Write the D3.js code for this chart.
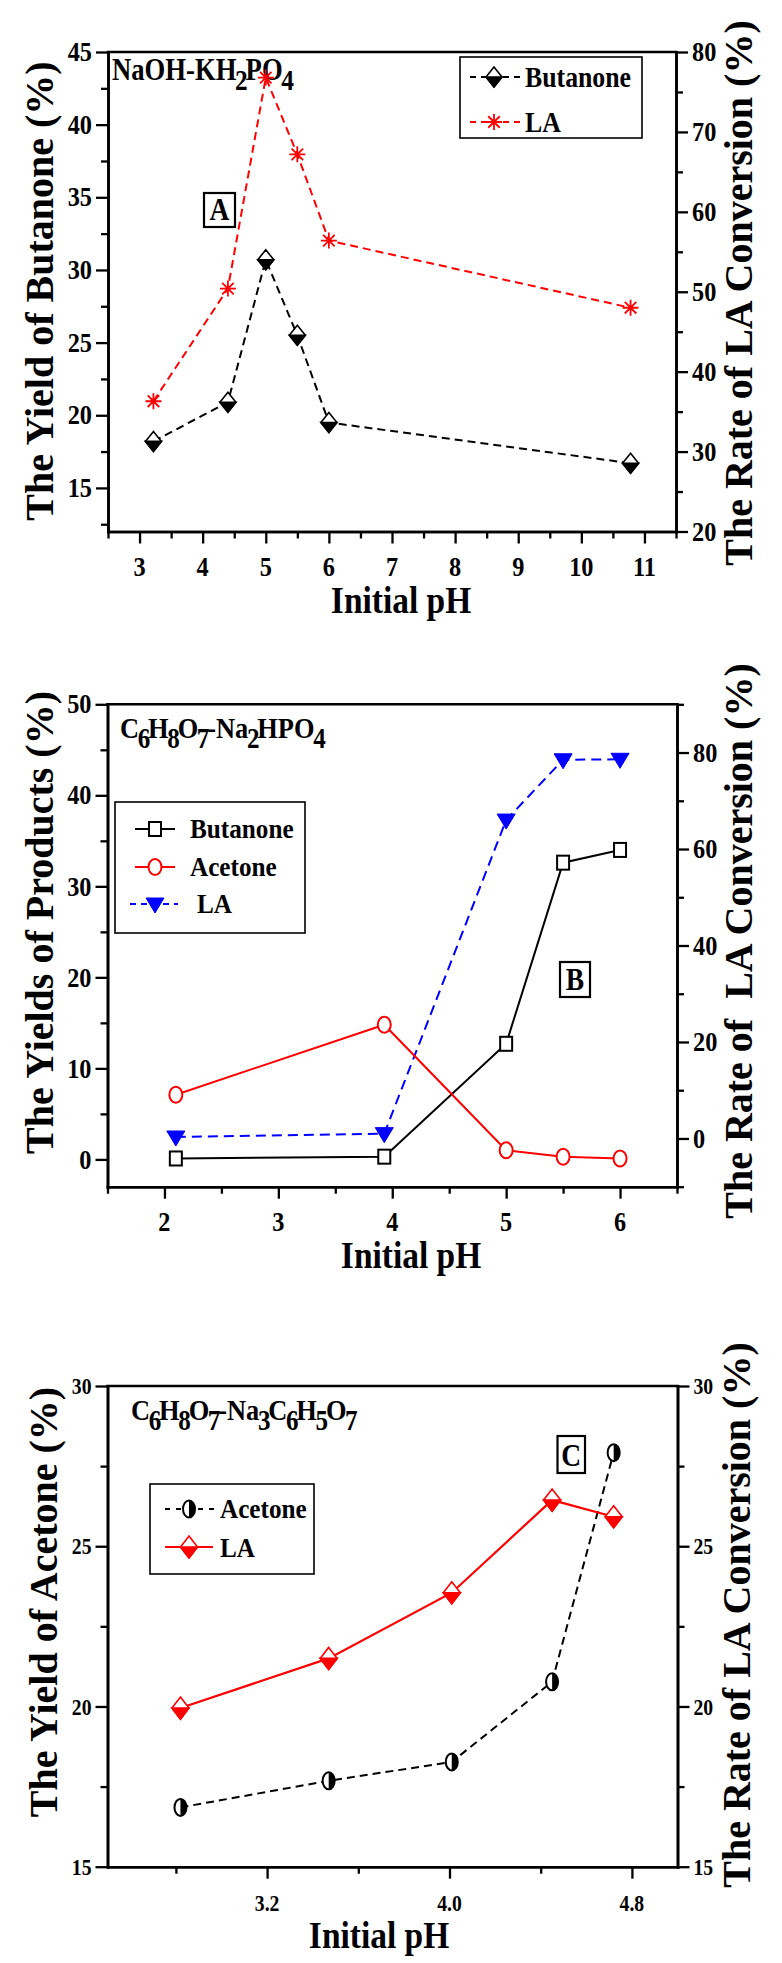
<!DOCTYPE html>
<html>
<head>
<meta charset="utf-8">
<script src="https://cdn.jsdelivr.net/npm/d3@7"></script>
<style>
  body { margin: 0; background: #fff; }
  text { font-family: "Liberation Serif", "Times New Roman", serif; font-weight: bold; fill: #000; }
</style>
</head>
<body>
<svg id="chart" width="782" height="1963"></svg>
<script>
// ================= DATA =================
// Panel A : NaOH-KH2PO4
const phA = [3.22, 4.40, 5.00, 5.50, 6.00, 10.78];
const butanoneYieldA = [18.2, 20.9, 30.7, 25.5, 19.5, 16.7];
const laConversionA = [36.3, 50.4, 76.8, 67.2, 56.4, 48.0];
const xTicksA = [3, 4, 5, 6, 7, 8, 9, 10, 11];
const xMinorA = [2.5, 3.5, 4.5, 5.5, 6.5, 7.5, 8.5, 9.5, 10.5, 11.5];
const yLeftTicksA = [15, 20, 25, 30, 35, 40, 45];
const yLeftMinorA = [12.5, 17.5, 22.5, 27.5, 32.5, 37.5, 42.5];
const yRightTicksA = [20, 30, 40, 50, 60, 70, 80];
const yRightMinorA = [25, 35, 45, 55, 65, 75];

// Panel B : C6H8O7-Na2HPO4
const phB = [2.10, 3.93, 5.00, 5.50, 6.00];
const butanoneYieldB = [0.1, 0.3, 12.7, 32.6, 34.0];
const acetoneYieldB = [7.1, 14.8, 1.0, 0.3, 0.1];
const laConversionB = [0.3, 1.0, 66.0, 78.5, 78.6];
const xTicksB = [2, 3, 4, 5, 6];
const xMinorB = [1.5, 2.5, 3.5, 4.5, 5.5, 6.5];
const yLeftTicksB = [0, 10, 20, 30, 40, 50];
const yLeftMinorB = [5, 15, 25, 35, 45];
const yRightTicksB = [0, 20, 40, 60, 80];
const yRightMinorB = [-10, 10, 30, 50, 70, 90];

// Panel C : C6H8O7-Na3C6H5O7
const phC = [2.82, 3.47, 4.01, 4.45, 4.72];
const acetoneYieldC = [16.85, 17.68, 18.27, 20.77, 27.92];
const laConversionC = [19.95, 21.5, 23.55, 26.44, 25.92];
const xTicksC = [3.2, 4.0, 4.8];
const xMinorC = [2.8, 3.6, 4.4];
const yLeftTicksC = [15, 20, 25, 30];
const yLeftMinorC = [17.5, 22.5, 27.5];
const yRightTicksC = [15, 20, 25, 30];
const yRightMinorC = [17.5, 22.5, 27.5];

// ================= DRAWING =================
const svg = d3.select("#chart");
svg.append("rect").attr("width", 782).attr("height", 1963).attr("fill", "#fff");

function hText(g, x, y, str, size, anchor, sx) {
  return g.append("text")
    .attr("transform", `translate(${x},${y}) scale(${sx},1)`)
    .attr("text-anchor", anchor)
    .attr("font-size", size)
    .text(str);
}

function chemText(g, x, y, parts, size, sx) {
  const t = g.append("text")
    .attr("transform", `translate(${x},${y}) scale(${sx},1)`)
    .attr("font-size", size);
  let sub = false;
  parts.forEach(([s, isSub]) => {
    const ts = t.append("tspan").text(s);
    if (isSub && !sub) { ts.attr("dy", size * 0.33).attr("font-size", size * 0.95).attr("dx", -1.5); sub = true; }
    else if (!isSub && sub) { ts.attr("dy", -size * 0.33).attr("dx", -2.5); sub = false; }
  });
  return t;
}

function vTitle(g, x, cy, str, size) {
  g.append("text")
    .attr("transform", `translate(${x},${cy}) rotate(-90)`)
    .attr("text-anchor", "middle")
    .attr("font-size", size)
    .style("white-space", "pre")
    .text(str);
}

function styleAxis(sel) {
  sel.select(".domain").attr("stroke-width", 2.6).attr("stroke-linecap", "square");
  sel.selectAll(".tick line").attr("stroke-width", 2.3);
  sel.selectAll(".tick text").remove();
}

function makePanel(p) {
  const g = svg.append("g");
  const x = d3.scaleLinear().domain(p.xDomain).range([p.left, p.right]);
  const yL = d3.scaleLinear().domain(p.yLDomain).range([p.bottom, p.top]);
  const yR = d3.scaleLinear().domain(p.yRDomain).range([p.bottom, p.top]);

  g.append("line").attr("x1", p.left).attr("x2", p.right).attr("y1", p.top).attr("y2", p.top)
    .attr("stroke", "#000").attr("stroke-width", 2.6).attr("stroke-linecap", "square");

  const axes = [
    [d3.axisBottom(x), p.xMinor, p.xMajor, `translate(0,${p.bottom})`],
    [d3.axisLeft(yL), p.yLMinor, p.yLMajor, `translate(${p.left},0)`],
    [d3.axisRight(yR), p.yRMinor, p.yRMajor, `translate(${p.right},0)`]
  ];
  axes.forEach(([ax, minor, major, tr]) => {
    g.append("g").attr("transform", tr)
      .call(ax.tickValues(minor).tickSize(7).tickSizeOuter(0).tickFormat(""))
      .call(styleAxis);
    g.append("g").attr("transform", tr)
      .call(ax.tickValues(major).tickSize(12).tickSizeOuter(0).tickFormat(""))
      .call(styleAxis);
  });

  const fx = p.xFormat, fy = d3.format("d");
  p.xMajor.forEach(v => hText(g, x(v), p.bottom + 44, fx(v), p.tickSize, "middle", p.tickSx));
  p.yLMajor.forEach(v => hText(g, p.left - 16, yL(v) + p.tickSize * 0.34, fy(v), p.tickSize, "end", p.tickSx));
  p.yRMajor.forEach(v => hText(g, p.right + 16, yR(v) + p.tickSize * 0.34, fy(v), p.tickSize, "start", p.tickSx));

  hText(g, p.xTitleX, p.bottom + 81, "Initial pH", 38, "middle", 0.88);
  vTitle(g, p.lTitleX, p.lTitleY, p.lTitle, 40);
  vTitle(g, p.rTitleX, p.rTitleY, p.rTitle, 40);
  return { g, x, yL, yR };
}

function drawLine(g, xs, ys, x, y, color, dash, width) {
  const pts = xs.map((v, i) => [x(v), y(ys[i])]);
  g.append("path").attr("d", d3.line()(pts)).attr("fill", "none")
    .attr("stroke", color).attr("stroke-width", width)
    .attr("stroke-dasharray", dash || null);
}

// ---- marker shapes ----
function halfDiamond(g, cx, cy, w, h, color) {
  g.append("path").attr("d", `M${cx},${cy - h / 2}L${cx + w / 2},${cy}L${cx},${cy + h / 2}L${cx - w / 2},${cy}Z`)
    .attr("fill", "#fff").attr("stroke", color).attr("stroke-width", 1.6);
  g.append("path").attr("d", `M${cx - w / 2},${cy}L${cx + w / 2},${cy}L${cx},${cy + h / 2}Z`)
    .attr("fill", color).attr("stroke", color).attr("stroke-width", 1.6).attr("stroke-linejoin", "miter");
}
function asterisk(g, cx, cy, r, color) {
  const d = r * 0.72;
  g.append("path").attr("d",
    `M${cx - r},${cy}L${cx + r},${cy}M${cx},${cy - r}L${cx},${cy + r}M${cx - d},${cy - d}L${cx + d},${cy + d}M${cx - d},${cy + d}L${cx + d},${cy - d}`)
    .attr("stroke", color).attr("stroke-width", 1.8).attr("fill", "none");
}
function openSquare(g, cx, cy, w, h, color) {
  g.append("rect").attr("x", cx - w / 2).attr("y", cy - h / 2).attr("width", w).attr("height", h)
    .attr("fill", "#fff").attr("stroke", color).attr("stroke-width", 2);
}
function openEllipse(g, cx, cy, rx, ry, color) {
  g.append("ellipse").attr("cx", cx).attr("cy", cy).attr("rx", rx).attr("ry", ry)
    .attr("fill", "#fff").attr("stroke", color).attr("stroke-width", 2);
}
function downTriangle(g, cx, cy, w, h, color) {
  g.append("path").attr("d", `M${cx - w / 2},${cy - h * 0.4}L${cx + w / 2},${cy - h * 0.4}L${cx},${cy + h * 0.6}Z`)
    .attr("fill", color).attr("stroke", color).attr("stroke-width", 1);
}
function halfEllipse(g, cx, cy, rx, ry, color) {
  g.append("ellipse").attr("cx", cx).attr("cy", cy).attr("rx", rx).attr("ry", ry)
    .attr("fill", "#fff").attr("stroke", color).attr("stroke-width", 2);
  g.append("path").attr("d", `M${cx},${cy - ry}A${rx},${ry} 0 0 1 ${cx},${cy + ry}Z`).attr("fill", color);
}

function legendBox(g, x0, y0, x1, y1) {
  g.append("rect").attr("x", x0).attr("y", y0).attr("width", x1 - x0).attr("height", y1 - y0)
    .attr("fill", "#fff").attr("stroke", "#000").attr("stroke-width", 1.6);
}
function letterBox(g, x0, y0, x1, y1, letter) {
  g.append("rect").attr("x", x0).attr("y", y0).attr("width", x1 - x0).attr("height", y1 - y0)
    .attr("fill", "none").attr("stroke", "#000").attr("stroke-width", 2.2);
  hText(g, (x0 + x1) / 2, y1 - 7, letter, 32, "middle", 0.86);
}

// ================= PANEL A =================
{
  const P = makePanel({
    left: 108, right: 676, top: 52, bottom: 531.5,
    xDomain: [2.5, 11.5], yLDomain: [12, 45], yRDomain: [20, 80],
    xMajor: xTicksA, xMinor: xMinorA, yLMajor: yLeftTicksA, yLMinor: yLeftMinorA,
    yRMajor: yRightTicksA, yRMinor: yRightMinorA, xFormat: d3.format("d"),
    tickSize: 27, tickSx: 0.9,
    xTitleX: 401, lTitleX: 53, lTitleY: 291, rTitleX: 752, rTitleY: 293,
    lTitle: "The Yield of Butanone (%)", rTitle: "The Rate of LA Conversion (%)"
  });
  const { g, x, yL, yR } = P;
  drawLine(g, phA, laConversionA, x, yR, "#ff0000", "8,5", 2);
  drawLine(g, phA, butanoneYieldA, x, yL, "#000", "8,5", 2);
  chemText(g, 112, 80, [["NaOH-KH", 0], ["2", 1], ["PO", 0], ["4", 1]], 31, 0.86);
  phA.forEach((v, i) => asterisk(g, x(v), yR(laConversionA[i]), 8, "#ff0000"));
  phA.forEach((v, i) => halfDiamond(g, x(v), yL(butanoneYieldA[i]), 16, 20, "#000"));
  letterBox(g, 204, 193, 235, 227, "A");
  legendBox(g, 460, 57, 642, 138);
  g.append("line").attr("x1", 470).attr("x2", 520).attr("y1", 77).attr("y2", 77).attr("stroke", "#000").attr("stroke-width", 2).attr("stroke-dasharray", "6,5");
  halfDiamond(g, 494, 77, 16, 20, "#000");
  hText(g, 525, 87, "Butanone", 30, "start", 0.86);
  g.append("line").attr("x1", 470).attr("x2", 520).attr("y1", 122).attr("y2", 122).attr("stroke", "#ff0000").attr("stroke-width", 2).attr("stroke-dasharray", "6,5");
  asterisk(g, 494, 122, 8, "#ff0000");
  hText(g, 525, 132, "LA", 30, "start", 0.86);
}

// ================= PANEL B =================
{
  const P = makePanel({
    left: 107.5, right: 677, top: 704.3, bottom: 1186.7,
    xDomain: [1.5, 6.5], yLDomain: [-3, 50], yRDomain: [-10, 90],
    xMajor: xTicksB, xMinor: xMinorB, yLMajor: yLeftTicksB, yLMinor: yLeftMinorB,
    yRMajor: yRightTicksB, yRMinor: yRightMinorB, xFormat: d3.format("d"),
    tickSize: 27, tickSx: 0.9,
    xTitleX: 411, lTitleX: 53, lTitleY: 922.5, rTitleX: 752, rTitleY: 941,
    lTitle: "The Yields of Products (%)", rTitle: "The Rate of  LA Conversion (%)"
  });
  const { g, x, yL, yR } = P;
  drawLine(g, phB, laConversionB, x, yR, "#0000ff", "10,6", 2);
  drawLine(g, phB, butanoneYieldB, x, yL, "#000", null, 2);
  drawLine(g, phB, acetoneYieldB, x, yL, "#ff0000", null, 2);
  chemText(g, 120, 738, [["C", 0], ["6", 1], ["H", 0], ["8", 1], ["O", 0], ["7", 1], ["-Na", 0], ["2", 1], ["HPO", 0], ["4", 1]], 30, 0.88);
  phB.forEach((v, i) => downTriangle(g, x(v), yR(laConversionB[i]), 18, 15, "#0000ff"));
  phB.forEach((v, i) => openSquare(g, x(v), yL(butanoneYieldB[i]), 12, 14, "#000"));
  phB.forEach((v, i) => openEllipse(g, x(v), yL(acetoneYieldB[i]), 6.5, 8, "#ff0000"));
  letterBox(g, 560, 962, 590, 997, "B");
  legendBox(g, 115, 802, 305, 933);
  g.append("line").attr("x1", 135).attr("x2", 175).attr("y1", 829).attr("y2", 829).attr("stroke", "#000").attr("stroke-width", 2);
  openSquare(g, 155, 829, 12, 14, "#000");
  hText(g, 190, 838, "Butanone", 28, "start", 0.9);
  g.append("line").attr("x1", 135).attr("x2", 175).attr("y1", 867).attr("y2", 867).attr("stroke", "#ff0000").attr("stroke-width", 2);
  openEllipse(g, 155, 867, 6.5, 8, "#ff0000");
  hText(g, 190, 876, "Acetone", 28, "start", 0.9);
  g.append("line").attr("x1", 130).attr("x2", 178).attr("y1", 904).attr("y2", 904).attr("stroke", "#0000ff").attr("stroke-width", 2).attr("stroke-dasharray", "6,5");
  downTriangle(g, 155, 904, 18, 15, "#0000ff");
  hText(g, 197, 913, "LA", 28, "start", 0.9);
}

// ================= PANEL C =================
{
  const P = makePanel({
    left: 107.5, right: 677.5, top: 1386, bottom: 1866.7,
    xDomain: [2.5, 5.0], yLDomain: [15, 30], yRDomain: [15, 30],
    xMajor: xTicksC, xMinor: xMinorC, yLMajor: yLeftTicksC, yLMinor: yLeftMinorC,
    yRMajor: yRightTicksC, yRMinor: yRightMinorC, xFormat: d3.format(".1f"),
    tickSize: 24, tickSx: 0.82,
    xTitleX: 379, lTitleX: 57, lTitleY: 1602, rTitleX: 750, rTitleY: 1615,
    lTitle: "The Yield of Acetone (%)", rTitle: "The Rate of LA Conversion (%)"
  });
  const { g, x, yL, yR } = P;
  drawLine(g, phC, acetoneYieldC, x, yL, "#000", "8,5", 2);
  drawLine(g, phC, laConversionC, x, yR, "#ff0000", null, 2.2);
  chemText(g, 131, 1420, [["C", 0], ["6", 1], ["H", 0], ["8", 1], ["O", 0], ["7", 1], ["-Na", 0], ["3", 1], ["C", 0], ["6", 1], ["H", 0], ["5", 1], ["O", 0], ["7", 1]], 30, 0.88);
  phC.forEach((v, i) => halfEllipse(g, x(v), yL(acetoneYieldC[i]), 6, 8.5, "#000"));
  phC.forEach((v, i) => halfDiamond(g, x(v), yR(laConversionC[i]), 17, 22, "#ff0000"));
  letterBox(g, 557.5, 1436, 585, 1473, "C");
  legendBox(g, 150, 1484, 314, 1574);
  g.append("line").attr("x1", 165).attr("x2", 214).attr("y1", 1509).attr("y2", 1509).attr("stroke", "#000").attr("stroke-width", 2).attr("stroke-dasharray", "5,6");
  halfEllipse(g, 189, 1509, 6, 8.5, "#000");
  hText(g, 220, 1518, "Acetone", 28, "start", 0.9);
  g.append("line").attr("x1", 165).attr("x2", 213).attr("y1", 1547).attr("y2", 1547).attr("stroke", "#ff0000").attr("stroke-width", 2.2);
  halfDiamond(g, 189, 1547, 17, 22, "#ff0000");
  hText(g, 220, 1557, "LA", 28, "start", 0.9);
}
</script>
</body>
</html>
